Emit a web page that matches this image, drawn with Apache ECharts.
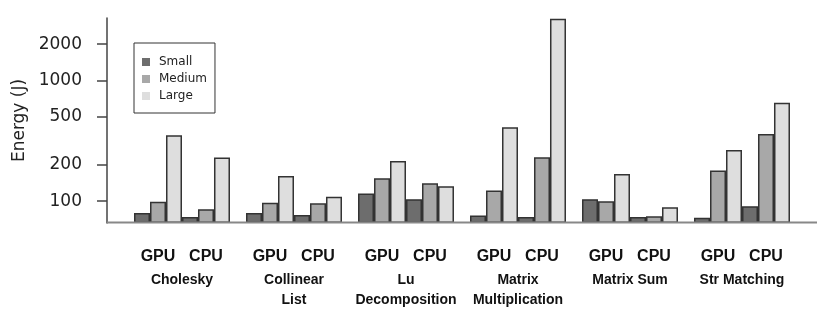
<!DOCTYPE html>
<html>
<head>
<meta charset="utf-8">
<script src="https://cdn.jsdelivr.net/npm/echarts@6/dist/echarts.min.js"></script>
<style>
  html, body { margin: 0; padding: 0; background: #fff; }
  #chart { width: 830px; height: 324px; }
</style>
</head>
<body>
<div id="chart"></div>
<script>
// benchmarks, each one has a GPU group and a CPU group of bars
const benchmarks = ['Cholesky', 'Collinear\nList', 'Lu\nDecomposition', 'Matrix\nMultiplication', 'Matrix Sum', 'Str Matching'];
const sizes = ['Small', 'Medium', 'Large'];
const sizeColors = ['#6d6d6d', '#a8a8a8', '#dedede'];

// energy in joules
const gpuSmall  = [80, 80, 116, 76, 104, 73];
const gpuMedium = [99, 97, 155, 123, 100, 180];
const gpuLarge  = [353, 162, 215, 411, 168, 266];
const cpuSmall  = [74, 77, 104, 74, 74, 91];
const cpuMedium = [86, 96, 141, 231, 75, 360];
const cpuLarge  = [230, 109, 133, 3250, 89, 654];

const yTicks = [100, 200, 500, 1000, 2000];

const chart = echarts.init(document.getElementById('chart'));

const gpuData = [gpuSmall, gpuMedium, gpuLarge];
const cpuData = [cpuSmall, cpuMedium, cpuLarge];

function barSeries(name, color, data) {
  return {
    name: name,
    type: 'bar',
    data: data,
    barGap: '0%',
    barCategoryGap: '14.3%',
    clip: true,
    itemStyle: { color: color, borderColor: '#333', borderWidth: 1.5 }
  };
}

const series = [];
sizes.forEach((s, i) => series.push(barSeries(s, sizeColors[i], gpuData[i])));
sizes.forEach((s, i) => series.push(barSeries(s, sizeColors[i], cpuData[i])));

const option = {
  animation: false,
  backgroundColor: '#fff',
  grid: { left: 126, right: 32, top: 18, bottom: 101 },
  legend: {
    data: sizes,
    orient: 'vertical',
    left: 134,
    top: 43,
    icon: 'rect',
    itemWidth: 8,
    itemHeight: 8,
    itemGap: 5,
    padding: [13, 8, 11, 8],
    borderColor: '#333',
    borderWidth: 1,
    itemStyle: { borderWidth: 0 },
    textStyle: { fontFamily: 'DejaVu Sans', fontSize: 12, color: '#222', padding: [0, 0, 0, 4] }
  },
  xAxis: {
    type: 'category',
    data: benchmarks,
    axisLine: { show: false },
    axisTick: { show: false },
    axisLabel: {
      margin: 20,
      interval: 0,
      formatter: v => '{g|GPU}{c|CPU}\n' + v.split('\n').map(t => '{n|' + t + '}').join('\n'),
      rich: {
        g: { width: 48, align: 'center', fontFamily: 'Liberation Sans', fontWeight: 'bold', fontSize: 16, lineHeight: 27, color: '#111' },
        c: { width: 48, align: 'center', fontFamily: 'Liberation Sans', fontWeight: 'bold', fontSize: 16, lineHeight: 27, color: '#111' },
        n: { fontFamily: 'Liberation Sans', fontWeight: 'bold', fontSize: 14, lineHeight: 20, color: '#111' }
      }
    }
  },
  yAxis: {
    type: 'log',
    logBase: 10,
    min: 66,
    max: 3300,
    startValue: 66,
    offset: 19,
    name: 'Energy (J)',
    nameLocation: 'middle',
    nameGap: 66,
    nameTextStyle: { fontFamily: 'DejaVu Sans', fontSize: 17, color: '#222' },
    axisLine: { show: true, lineStyle: { color: '#444', width: 1.5 } },
    axisTick: { show: true, length: 10, customValues: yTicks, lineStyle: { color: '#444', width: 1.5 } },
    axisLabel: { margin: 25, customValues: yTicks, formatter: v => String(Math.round(v)), fontFamily: 'DejaVu Sans', fontSize: 17, color: '#222' },
    splitLine: { show: false },
    minorTick: { show: false }
  },
  graphic: [{
    type: 'line',
    z: 100,
    shape: { x1: 107, y1: 222.5, x2: 817, y2: 222.5 },
    style: { stroke: '#888', lineWidth: 2 }
  }],
  series: series
};

chart.setOption(option);
</script>
</body>
</html>
